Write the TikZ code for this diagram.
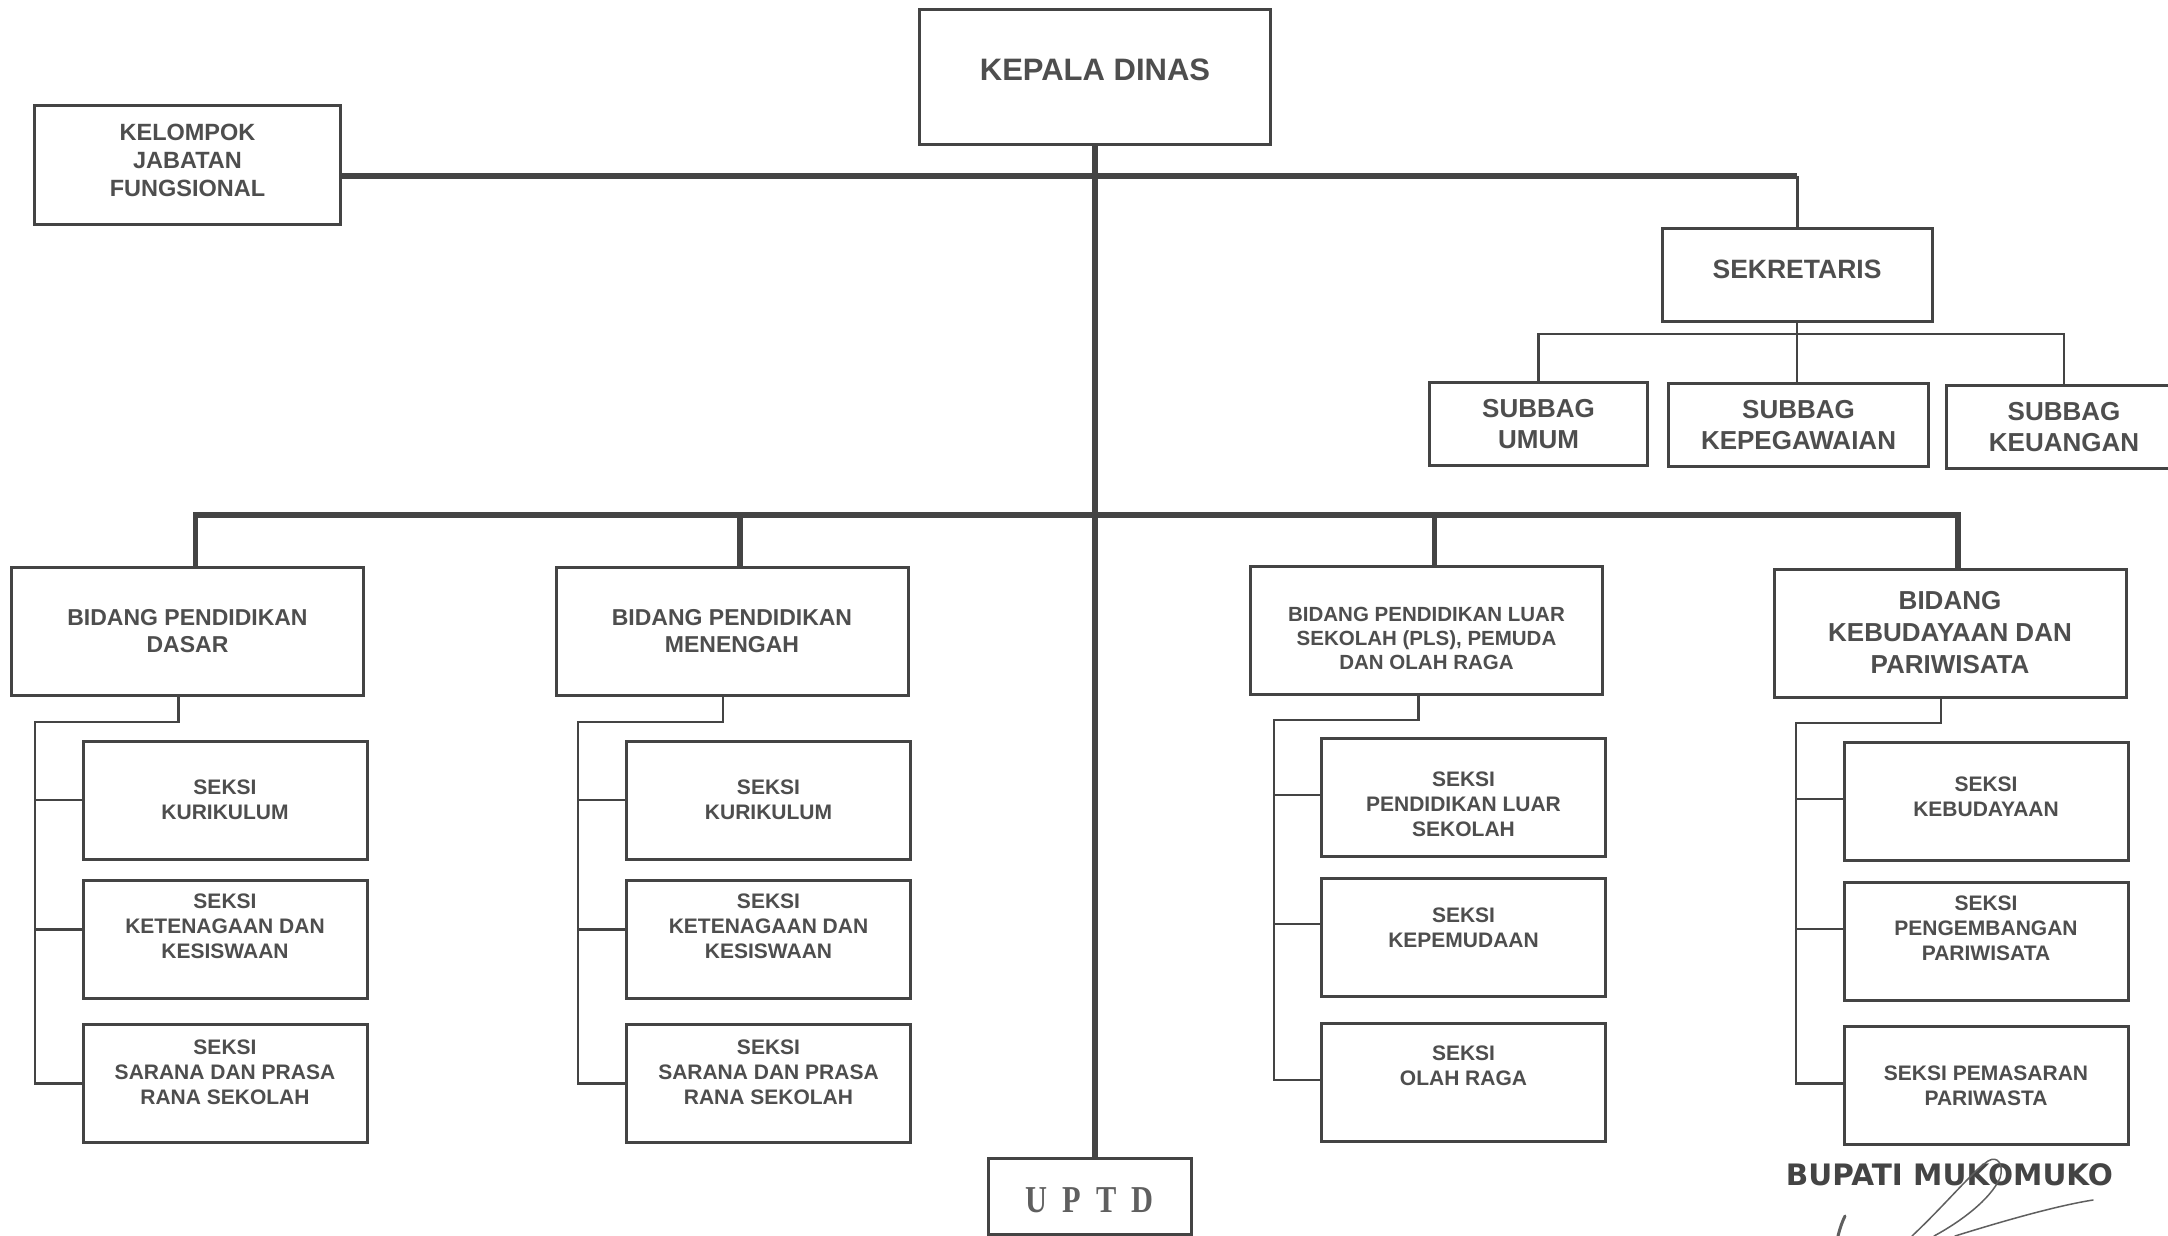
\documentclass[tikz,border=0pt]{standalone}
\usepackage{fontspec}
\setmainfont{Liberation Sans}
\newfontfamily\uptdfont{Liberation Serif}
\newfontfamily\bupfont{DejaVu Sans}
\definecolor{ink}{RGB}{68,68,68}
\definecolor{txt}{RGB}{78,78,78}
\definecolor{soft}{RGB}{95,95,95}
\newcommand{\fsz}[2]{\fontsize{#1}{#2}\selectfont\bfseries}
\begin{document}
\begin{tikzpicture}[x=1pt,y=-1pt,
  box/.style={draw=ink, line width=3pt, rectangle, align=center, text=txt, inner sep=3pt},
  seksi/.style={box, minimum width=284pt, minimum height=118pt, font=\fsz{21}{25}},
  bidang/.style={box, minimum width=352pt, minimum height=128pt},
  subbag/.style={box, minimum height=83pt, font=\fsz{26}{31}},
  lift/.style={text depth=#1},
  drop/.style={text height=#1},
  thickln/.style={draw=ink, line width=5.5pt},
  thinln/.style={draw=ink, line width=2.5pt},
  sig/.style={draw=soft, line width=1.5pt, line cap=round}]
\fill[white] (0,0) rectangle (2168,1236);
\useasboundingbox (0,0) rectangle (2168,1236);

% top level
\node[box, minimum width=351pt, minimum height=135pt, font=\fsz{31}{36}, lift=14pt] (kd) at (1095,77) {KEPALA DINAS};
\node[box, minimum width=306pt, minimum height=119pt, font=\fsz{23.5}{28}, lift=10pt] (kjf) at (187.5,165) {KELOMPOK\\JABATAN\\FUNGSIONAL};
\node[box, minimum width=270pt, minimum height=93pt, font=\fsz{26.5}{31}, lift=12pt] (sek) at (1797,275) {SEKRETARIS};
\node[subbag, minimum width=218pt] (su) at (1538.5,424) {SUBBAG\\UMUM};
\node[subbag, minimum width=260pt] (sk) at (1798.5,425) {SUBBAG\\KEPEGAWAIAN};
\node[subbag, minimum width=236pt] (skeu) at (2064,427) {SUBBAG\\KEUANGAN};

% bidang
\node[bidang, font=\fsz{23}{27}] (bd) at (187.5,631.5) {BIDANG PENDIDIKAN\\DASAR};
\node[bidang, font=\fsz{23}{27}] (bm) at (732,631.5) {BIDANG PENDIDIKAN\\MENENGAH};
\node[bidang, font=\fsz{20.5}{24}, drop=80pt] (bp) at (1426.5,630) {BIDANG PENDIDIKAN LUAR\\SEKOLAH (PLS), PEMUDA\\DAN OLAH RAGA};
\node[bidang, font=\fsz{26}{32}] (bk) at (1950,633) {BIDANG\\KEBUDAYAAN DAN\\PARIWISATA};

% seksi column 1
\node[seksi] (s11) at (225,800) {SEKSI\\KURIKULUM};
\node[seksi, lift=26pt] (s12) at (225,939.5) {SEKSI\\KETENAGAAN DAN\\KESISWAAN};
\node[seksi, lift=22pt] (s13) at (225,1083.5) {SEKSI\\SARANA DAN PRASA\\RANA SEKOLAH};
% seksi column 2
\node[seksi] (s21) at (768.5,800) {SEKSI\\KURIKULUM};
\node[seksi, lift=26pt] (s22) at (768.5,939.5) {SEKSI\\KETENAGAAN DAN\\KESISWAAN};
\node[seksi, lift=22pt] (s23) at (768.5,1083.5) {SEKSI\\SARANA DAN PRASA\\RANA SEKOLAH};
% seksi column 3
\node[seksi, drop=79pt] (s31) at (1463.5,797) {SEKSI\\PENDIDIKAN LUAR\\SEKOLAH};
\node[seksi, lift=18pt] (s32) at (1463.5,937) {SEKSI\\KEPEMUDAAN};
\node[seksi, lift=32pt] (s33) at (1463.5,1082) {SEKSI\\OLAH RAGA};
% seksi column 4
\node[seksi, lift=8pt] (s41) at (1986,801) {SEKSI\\KEBUDAYAAN};
\node[seksi, lift=26pt] (s42) at (1986,941) {SEKSI\\PENGEMBANGAN\\PARIWISATA};
\node[seksi] (s43) at (1986,1085.5) {SEKSI PEMASARAN\\PARIWASTA};

% UPTD and signature
\node[box, minimum width=203pt, minimum height=76pt, text=soft, font={\uptdfont\fontsize{38}{42}\selectfont\bfseries}, drop=33pt] (uptd) at (1089.5,1196)
  {\scalebox{0.8}[1]{U\hspace{0.5em}P\hspace{0.5em}T\hspace{0.5em}D}};
\node[font={\bupfont\fontsize{29.5}{34}\selectfont\bfseries}, text=ink] (bup) at (1949.5,1175) {BUPATI MUKOMUKO};
\draw[sig, line width=3pt] (1838,1236) .. controls (1840,1228) and (1842,1222) .. (1845,1216);
\draw[sig] (1912,1236) .. controls (1945,1205) and (1972,1172) .. (1988,1161)
  .. controls (1998,1155) and (2004,1165) .. (2000,1178)
  .. controls (1990,1200) and (1960,1222) .. (1934,1236);
\draw[sig] (1955,1236) .. controls (2000,1222) and (2055,1206) .. (2093,1200);

% connectors
\coordinate (h1) at (1095,176);
\coordinate (h2) at (1797,334);
\coordinate (h3) at (1095,515);
\coordinate (dbd) at ([xshift=8pt]bd.north);
\coordinate (dbm) at ([xshift=8pt]bm.north);
\coordinate (dbp) at ([xshift=8pt]bp.north);
\coordinate (dbk) at ([xshift=8pt]bk.north);

\draw[thickln] (kd.south) -- (kd.south |- uptd.north);
\draw[thickln] (kjf.east |- h1) -- (h1 -| sek.north);
\draw[draw=ink, line width=3pt] (h1 -| sek.north) -- (sek.north);
\draw[thickln] (dbd) |- (dbk |- h3) -- (dbk);
\draw[thickln] (dbm) -- (dbm |- h3);
\draw[thickln] (dbp) -- (dbp |- h3);

\draw[thinln] (sek.south) -- (h2);
\draw[thinln] (su.north) |- (skeu.north |- h2) -- (skeu.north);
\draw[thinln] (h2) -- (h2 |- sk.north);

% brackets
\coordinate (b1) at (35,722);
\coordinate (b2) at (578,722);
\coordinate (b3) at (1274,720);
\coordinate (b4) at (1796,723);
\draw[thinln] ([xshift=-9pt]bd.south) |- (b1) |- (s13.west);
\draw[thinln] (s11.west) -| (b1);
\draw[thinln] ([yshift=10pt]s12.west) -| (b1);
\draw[thinln] ([xshift=-9pt]bm.south) |- (b2) |- (s23.west);
\draw[thinln] (s21.west) -| (b2);
\draw[thinln] ([yshift=10pt]s22.west) -| (b2);
\draw[thinln] ([xshift=-8pt]bp.south) |- (b3) |- ([yshift=2pt]s33.west);
\draw[thinln] ([yshift=2pt]s31.west) -| (b3);
\draw[thinln] ([yshift=13pt]s32.west) -| (b3);
\draw[thinln] ([xshift=-9pt]bk.south) |- (b4) |- ([yshift=2pt]s43.west);
\draw[thinln] ([yshift=2pt]s41.west) -| (b4);
\draw[thinln] ([yshift=12pt]s42.west) -| (b4);
\end{tikzpicture}
\end{document}
